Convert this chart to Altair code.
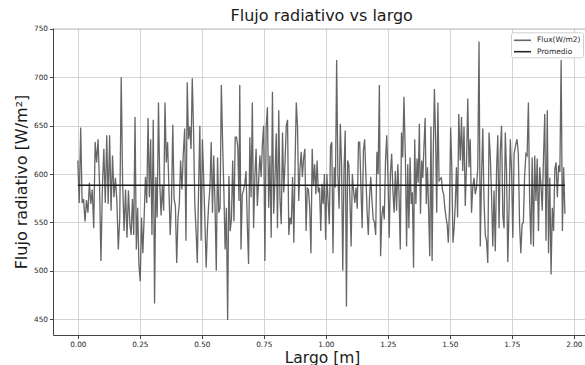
import altair as alt
import pandas as pd
import numpy as np

# Flux readings (W/m2), grouped in consecutive stretches of the x range
seg1 = [614, 570, 648, 570, 574, 551, 573, 560, 591, 569, 584, 544, 633, 612, 636, 590, 510, 586, 626, 570,
        640, 569, 640, 562, 619, 576, 596, 572, 522, 555, 700, 590, 541, 584, 534, 583, 548]
seg2 = [537, 574, 537, 659, 522, 565, 506, 489, 555, 518, 555, 597, 570, 658, 576, 636, 537, 656, 466, 597,
        555, 674, 591, 557, 588, 562, 674, 612, 633, 586, 537, 570, 651, 574, 567, 508, 555, 569, 614, 584, 619]
seg3 = [647, 531, 695, 636, 649, 626, 699, 645, 569, 541, 508, 586, 650, 531, 636, 597, 551, 503, 544, 569,
        586, 633, 560, 619, 569, 500, 617, 560, 565, 692, 633, 583, 522, 565, 449, 598, 541, 553, 614, 551,
        638, 638, 629, 572]
seg4 = [692, 522, 579, 583, 590, 603, 548, 507, 638, 576, 674, 544, 597, 626, 567, 593, 619, 597, 631, 650,
        510, 649, 669, 565, 619, 534, 685, 559, 595, 642, 544, 666, 574, 548, 643, 581, 612, 650, 656, 537,
        555, 548, 597, 529]
seg5 = [610, 674, 649, 572, 605, 623, 597, 617, 626, 541, 586, 583, 564, 518, 626, 588, 610, 579, 614, 581,
        586, 541, 590, 569, 600, 532, 600, 572, 548, 629, 633, 518, 607, 586, 718, 600, 564, 652, 610, 500,
        603, 645, 463, 614, 609]
seg6 = [576, 525, 600, 583, 570, 586, 564, 633, 633, 586, 544, 624, 636, 600, 562, 537, 576, 597, 572, 553,
        550, 537, 623, 600, 692, 515, 557, 567, 553, 614, 640, 596, 534, 600, 621, 583, 560, 603, 562, 610,
        579, 522, 643, 617, 680]
seg7 = [614, 525, 610, 544, 617, 569, 581, 503, 636, 569, 616, 591, 652, 559, 614, 596, 629, 658, 569, 607,
        562, 515, 649, 510, 621, 688, 638, 560, 674, 593, 595, 596, 583, 579, 565, 555, 548, 529, 564, 648,
        607, 529, 544, 569, 607, 555, 662]
seg8 = [614, 659, 603, 649, 567, 610, 678, 607, 636, 560, 586, 596, 579, 586, 607, 737, 525, 596, 647, 572,
        537, 531, 508, 643, 619, 579, 525, 583, 520, 603, 640, 544, 624, 650, 557, 544, 643, 602, 509, 565,
        636, 603, 534, 621]
seg9 = [631, 636, 621, 548, 518, 548, 550, 598, 621, 619, 674, 572, 527, 617, 525, 619, 572, 616, 541, 607,
        588, 562, 617, 662, 531, 666, 518, 596, 496, 565, 541, 605, 612, 576, 609, 602, 718, 541, 607, 559]

# start / end of each stretch along "Largo [m]"
seg_starts = [0.000, 0.215, 0.431, 0.653, 0.876, 1.097, 1.321, 1.542, 1.766]
seg_ends = [0.210, 0.425, 0.650, 0.871, 1.093, 1.315, 1.536, 1.759, 1.964]

promedio_value = 588.5
promedio_x = [0.0, 1.964]

x_ticks = [0.0, 0.25, 0.5, 0.75, 1.0, 1.25, 1.5, 1.75, 2.0]
y_ticks = [450, 500, 550, 600, 650, 700, 750]

series_names = ["Flux(W/m2)", "Promedio"]
series_colors = ["#5e5e5e", "#1c1c1c"]

rows = []
for x0, x1, vals in zip(seg_starts, seg_ends, [seg1, seg2, seg3, seg4, seg5, seg6, seg7, seg8, seg9]):
    xs = np.linspace(x0, x1, len(vals))
    for x, v in zip(xs, vals):
        rows.append({"largo": float(x), "flujo": float(v), "serie": series_names[0], "orden": len(rows)})
flux_df = pd.DataFrame(rows)
prom_df = pd.DataFrame({"largo": promedio_x, "flujo": [promedio_value] * 2,
                        "serie": [series_names[1]] * 2, "orden": [0, 1]})

FONT = "DejaVu Sans"

x_enc = alt.X("largo:Q",
              scale=alt.Scale(domain=[-0.1, 2.045], nice=False, zero=False),
              axis=alt.Axis(values=x_ticks, format=".2f", title="Largo [m]",
                            titleFontSize=15.5, titleFont=FONT, titleFontWeight="normal",
                            titleColor="#1a1a1a", titleBaseline="alphabetic", titleY=27, titleX=269,
                            labelFontSize=7.3, labelFont=FONT, labelColor="#262626",
                            labelPadding=1.5, tickSize=3.5, tickColor="#444444",
                            domainColor="#444444", gridColor="#cfcfcf", gridWidth=0.9,
                            labelFlush=False))
y_enc = alt.Y("flujo:Q",
              scale=alt.Scale(domain=[433.5, 751], nice=False, zero=False),
              axis=alt.Axis(values=y_ticks, format="d", title="Flujo radiativo [W/m²]",
                            titleFontSize=16, titleFont=FONT, titleFontWeight="normal",
                            titleColor="#1a1a1a", titleBaseline="alphabetic",
                            titleX=-27, titleY=153.5, titleAngle=270, titleAlign="center",
                            labelFontSize=7.3, labelFont=FONT, labelColor="#262626",
                            labelPadding=2, tickSize=3.5, tickColor="#444444",
                            domainColor="#444444", gridColor="#cfcfcf", gridWidth=0.9))
color_enc = alt.Color("serie:N",
                      scale=alt.Scale(domain=series_names, range=series_colors),
                      legend=alt.Legend(title=None, orient="none", legendX=458, legendY=4.3,
                                        symbolType="M-1,0H2.4", symbolSize=100, symbolStrokeWidth=1.6,
                                        labelFontSize=7.5, labelFont=FONT, labelColor="#262626",
                                        strokeColor="#d0d0d0", fillColor="white", padding=2,
                                        cornerRadius=2, rowPadding=1.4, labelOffset=12))

flux_line = alt.Chart(flux_df).mark_line(strokeWidth=1.3, opacity=0.95).encode(
    x=x_enc, y=y_enc, color=color_enc, order="orden:Q")
prom_line = alt.Chart(prom_df).mark_line(strokeWidth=1.5).encode(
    x=x_enc, y=y_enc, color=color_enc, order="orden:Q")

chart = alt.layer(flux_line, prom_line).properties(
    width=532, height=307,
    title=alt.TitleParams("Flujo radiativo vs largo", fontSize=16, font=FONT,
                          fontWeight="normal", color="#1a1a1a", anchor="middle",
                          offset=0.5, dx=2.7),
    autosize=alt.AutoSizeParams(type="none"),
    padding={"left": 53, "top": 28, "right": 0, "bottom": 30},
).configure_view(stroke="#444444", strokeWidth=1).configure(background="white")

chart.save("out.html", embed_options={"renderer": "svg", "actions": False})
